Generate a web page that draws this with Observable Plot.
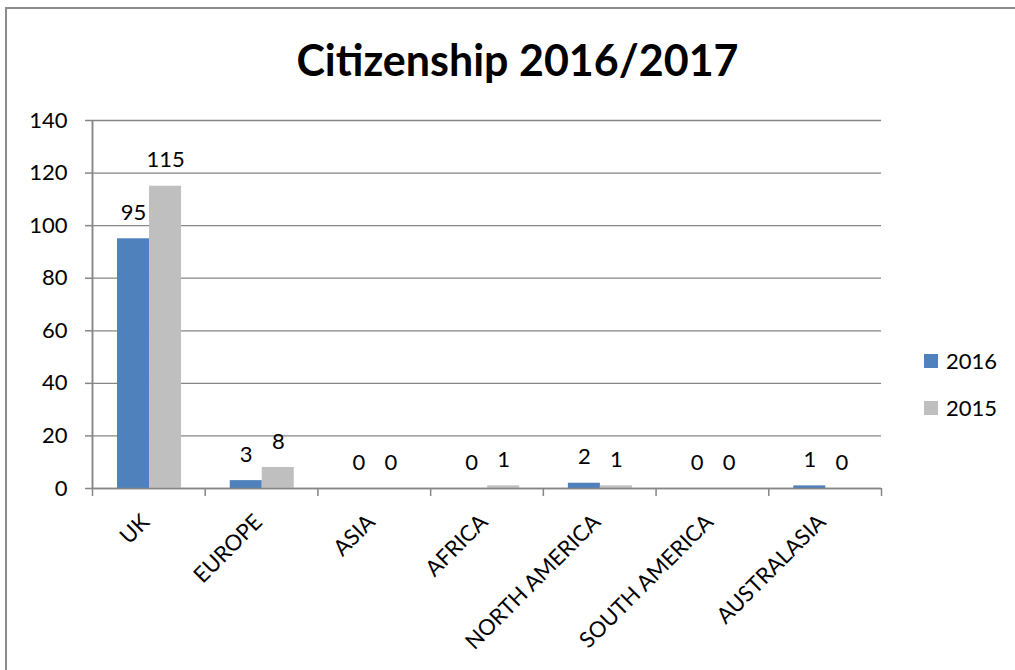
<!DOCTYPE html>
<html>
<head>
<meta charset="utf-8">
<script src="https://cdn.jsdelivr.net/npm/d3@7"></script>
<script src="https://cdn.jsdelivr.net/npm/@observablehq/plot@0.6"></script>
<style>
  html, body { margin: 0; padding: 0; background: #fff; overflow: hidden; }
  body { width: 1015px; height: 670px; position: relative; font-family: Lato, "Open Sans", sans-serif; }
  #topline { position: absolute; left: 5px; top: 7px; width: 1010px; height: 2px; background: #8c8c8c; }
  #leftline { position: absolute; left: 5px; top: 7px; width: 2px; height: 663px; background: #8c8c8c; }
  #title { position: absolute; left: 20px; width: 995px; top: 36px; text-align: center; font-weight: bold; font-size: 43px; color: #000; line-height: 1.1; }
  #chart { position: absolute; left: 0; top: 0; width: 1015px; height: 670px; }
  #legend { position: absolute; left: 924px; top: 337px; font-size: 22px; color: #000; }
  .item { display: flex; align-items: center; height: 47px; }
  .sw { width: 14px; height: 14px; margin-right: 8px; }
</style>
</head>
<body>
<div id="topline"></div>
<div id="leftline"></div>
<div id="chart"></div>
<div id="title">Citizenship 2016/2017</div>
<div id="legend"></div>
<script>
const categories = ["UK", "EUROPE", "ASIA", "AFRICA", "NORTH AMERICA", "SOUTH AMERICA", "AUSTRALASIA"];
const series = ["2016", "2015"];
const values2016 = [95, 3, 0, 0, 2, 0, 1];
const values2015 = [115, 8, 0, 1, 1, 0, 0];
const colors = ["#4F81BD", "#BFBFBF"];
const yTicks = [0, 20, 40, 60, 80, 100, 120, 140];

const W = 1015, H = 670;
const mL = 92, mR = 134, mT = 120, mB = 182;
const bw = (W - mL - mR) / categories.length;

const rows = [];
categories.forEach((c, i) => {
  rows.push({cat: c, series: series[0], value: values2016[i]});
  rows.push({cat: c, series: series[1], value: values2015[i]});
});
const r16 = rows.filter(d => d.series === series[0]);
const r15 = rows.filter(d => d.series === series[1]);

const padL = bw * 0.222, barW = bw * 0.284;
const ins16 = {insetLeft: padL, insetRight: bw - padL - barW};
const ins15 = {insetLeft: padL + barW, insetRight: bw - padL - 2 * barW};
const cx16 = padL + barW / 2 - bw / 2;
const cx15 = padL + barW * 1.5 - bw / 2;

const gridColor = "#868686";
const chart = Plot.plot({
  width: W, height: H,
  marginLeft: mL, marginRight: mR, marginTop: mT, marginBottom: mB,
  style: {fontFamily: "Lato, 'Open Sans', sans-serif", fontSize: "22px", color: "#000", background: "transparent"},
  x: {domain: categories, padding: 0, round: false, label: null},
  y: {domain: [0, 140], label: null},
  marks: [
    Plot.ruleY(yTicks, {stroke: gridColor, strokeWidth: 1.3, strokeOpacity: 1}),
    Plot.barY(r16, {x: "cat", y: "value", fill: colors[0], ...ins16}),
    Plot.barY(r15, {x: "cat", y: "value", fill: colors[1], ...ins15}),
    Plot.ruleY([0], {stroke: gridColor, strokeWidth: 1.5}),
    Plot.ruleX([0, 0], {x: () => categories[0], y1: 0, y2: 140, dx: -bw / 2, stroke: gridColor, strokeWidth: 1.5}),
    Plot.ruleX(categories, {x: d => d, y1: 0, y2: 0, dx: -bw / 2, insetBottom: -8, stroke: gridColor, strokeWidth: 1.5}),
    Plot.ruleX([categories[categories.length - 1]], {x: d => d, y1: 0, y2: 0, dx: bw / 2, insetBottom: -8, stroke: gridColor, strokeWidth: 1.5}),
    Plot.text(r16, {x: "cat", y: "value", text: d => String(d.value), dx: cx16, dy: -26, fill: "#000", fontSize: 22}),
    Plot.text(r15, {x: "cat", y: "value", text: d => String(d.value), dx: cx15, dy: -26, fill: "#000", fontSize: 22}),
    Plot.axisY(yTicks, {tickSize: 7, tickPadding: 18, stroke: gridColor, strokeWidth: 1.5, strokeOpacity: 1, fill: "#000", fontSize: 22}),
    Plot.axisX({tickSize: 0, tickPadding: 22, tickRotate: -45, fill: "#000", fontSize: 22, textAnchor: "end", dx: -3, dy: 8})
  ]
});
document.getElementById("chart").appendChild(chart);

const legend = document.getElementById("legend");
series.forEach((s, i) => {
  const it = document.createElement("div");
  it.className = "item";
  const sw = document.createElement("div");
  sw.className = "sw";
  sw.style.background = colors[i];
  const t = document.createElement("span");
  t.textContent = s;
  it.appendChild(sw); it.appendChild(t);
  legend.appendChild(it);
});
</script>
</body>
</html>
